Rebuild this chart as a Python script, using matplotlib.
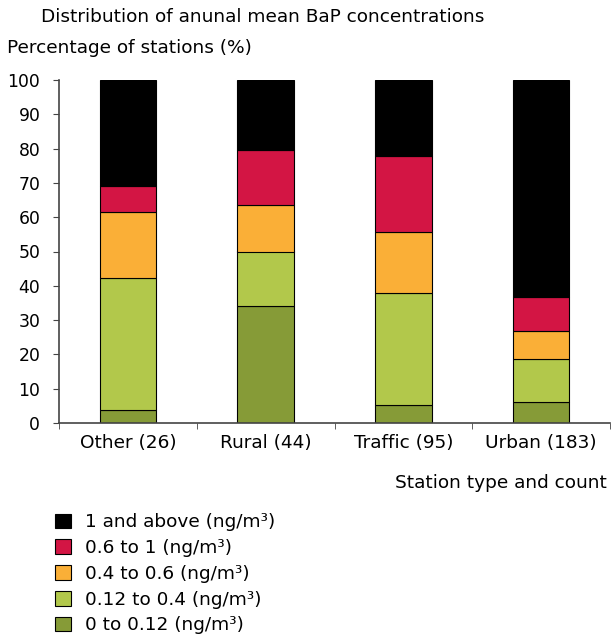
import numpy as np
import matplotlib.pyplot as plt
from matplotlib.patches import Patch

# station types and share of stations (%) per concentration class
stations = ['Other (26)', 'Rural (44)', 'Traffic (95)', 'Urban (183)']
c_0_012 = [3.8, 34.1, 5.3, 6.0]
c_012_04 = [38.5, 15.9, 32.6, 12.6]
c_04_06 = [19.2, 13.6, 17.9, 8.2]
c_06_1 = [7.7, 15.9, 22.1, 9.8]
c_1_up = [30.8, 20.5, 22.1, 63.4]

labels = ['0 to 0.12 (ng/m³)', '0.12 to 0.4 (ng/m³)', '0.4 to 0.6 (ng/m³)',
          '0.6 to 1 (ng/m³)', '1 and above (ng/m³)']
colors = ['#869b37', '#b2c84b', '#faaf37', '#d31544', '#000000']

plt.rcParams['font.family'] = ['DejaVu Sans']
txt_size = 13.3

fig = plt.figure(figsize=(6.12, 6.36), dpi=100)
ax = fig.add_axes([59/612, 1-423/636, 551/612, 343/636])

x = np.arange(len(stations))
bottom = np.zeros(len(stations))
series = [c_0_012, c_012_04, c_04_06, c_06_1, c_1_up]
for vals, col in zip(series, colors):
    ax.bar(x, vals, 0.41, bottom=bottom, color=col, edgecolor='black', linewidth=0.8)
    bottom += np.array(vals)

ax.set_xlim(-0.5, len(stations) - 0.5)
ax.set_ylim(0, 100)
ax.set_yticks(range(0, 101, 10))
ax.set_xticks(x)
ax.set_xticklabels(stations, fontsize=txt_size)
ax.set_xticks(np.arange(-0.5, len(stations), 1.0), minor=True)
ax.tick_params(axis='x', which='major', length=0, pad=8)
ax.tick_params(axis='x', which='minor', length=4, color='#444444', direction='out')
ax.tick_params(axis='y', length=4.5, color='#444444', pad=9, labelsize=12.4)
for s in ['top', 'right']:
    ax.spines[s].set_visible(False)
for s in ['left', 'bottom']:
    ax.spines[s].set_color('#444444')
    ax.spines[s].set_linewidth(1.2)

fig.text(41/612, 1-17/636, 'Distribution of anunal mean BaP concentrations',
         va='center', fontsize=txt_size)
fig.text(7/612, 1-48/636, 'Percentage of stations (%)', va='center', fontsize=txt_size)
fig.text(607/612, 1-483/636, 'Station type and count', ha='right', va='center',
         fontsize=txt_size)

handles = [Patch(facecolor=c, edgecolor='black', linewidth=0.8) for c in colors]
fig.legend(handles[::-1], labels[::-1], loc='upper left', bbox_to_anchor=(48/612, 1-506/636),
           frameon=False, fontsize=txt_size, handlelength=0.85, handleheight=0.85,
           handletextpad=0.75, labelspacing=0.42, borderaxespad=0)

fig.savefig('out.png', dpi=100)
